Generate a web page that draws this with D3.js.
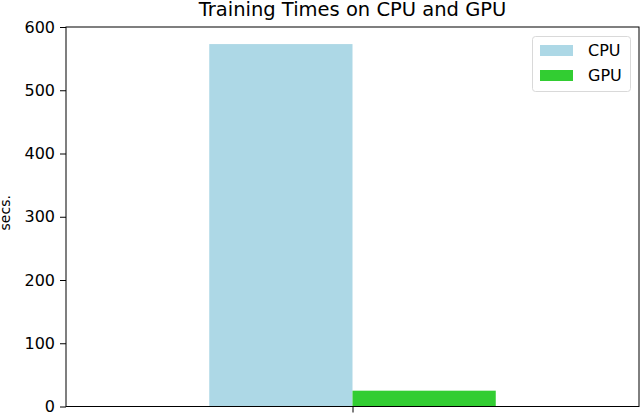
<!DOCTYPE html>
<html>
<head>
<meta charset="utf-8">
<script src="https://cdn.jsdelivr.net/npm/d3@7"></script>
<style>
  html, body { margin: 0; padding: 0; background: #fff; }
  svg { display: block; font-family: "DejaVu Sans", sans-serif; }
</style>
</head>
<body>
<svg id="chart" width="640" height="414"></svg>
<script>
const categories = ["CPU", "GPU"];
const values = [573, 25];
const colors = ["#add8e6", "#32cd32"];
const yTicks = [0, 100, 200, 300, 400, 500, 600];
const barOffsets = [-0.25, 0];
const title = "Training Times on CPU and GPU";
const yLabel = "secs.";

const svg = d3.select("#chart");
const m = { left: 66, right: 639, top: 27, bottom: 406.5 };

const x = d3.scaleLinear().domain([-0.5, 0.5]).range([m.left, m.right]);
const y = d3.scaleLinear().domain([0, 600]).range([m.bottom, m.top]);

// bars
svg.append("g").selectAll("rect")
  .data(categories)
  .join("rect")
  .attr("x", (d, i) => x(barOffsets[i]))
  .attr("width", (d, i) => x(barOffsets[i] + 0.25) - x(barOffsets[i]))
  .attr("y", (d, i) => y(values[i]))
  .attr("height", (d, i) => y(0) - y(values[i]))
  .attr("fill", (d, i) => colors[i]);

// y axis
const yAxis = d3.axisLeft(y).tickValues(yTicks).tickSize(6).tickPadding(5);
const gy = svg.append("g").attr("transform", `translate(${m.left},0)`).call(yAxis);
gy.select(".domain").remove();
gy.selectAll("text").attr("font-size", 16).attr("fill", "#000").attr("font-family", "DejaVu Sans");
gy.selectAll("line").attr("stroke", "#000");

// x axis (single tick at center, no label)
const xAxis = d3.axisBottom(x).tickValues([0]).tickFormat("").tickSize(6);
const gx = svg.append("g").attr("transform", `translate(0,${m.bottom})`).call(xAxis);
gx.select(".domain").remove();
gx.selectAll("line").attr("stroke", "#000");

// frame
svg.append("rect")
  .attr("x", m.left).attr("y", m.top)
  .attr("width", m.right - m.left).attr("height", m.bottom - m.top)
  .attr("fill", "none").attr("stroke", "#000").attr("stroke-width", 1);

// title
svg.append("text")
  .attr("x", (m.left + m.right) / 2).attr("y", 16)
  .attr("text-anchor", "middle")
  .attr("font-size", 19.5)
  .text(title);

// y label
svg.append("text")
  .attr("transform", `translate(10,${(m.top + m.bottom) / 2 - 4}) rotate(-90)`)
  .attr("text-anchor", "middle")
  .attr("font-size", 14)
  .text(yLabel);

// legend
const lg = svg.append("g");
lg.append("rect")
  .attr("x", 532.5).attr("y", 36.5).attr("width", 98).attr("height", 55)
  .attr("rx", 3).attr("fill", "#fff").attr("fill-opacity", 0.8)
  .attr("stroke", "#d9d9d9");
const items = lg.selectAll("g.item").data(categories).join("g")
  .attr("transform", (d, i) => `translate(540,${45 + i * 25})`);
items.append("rect").attr("width", 33).attr("height", 11)
  .attr("fill", (d, i) => colors[i]);
items.append("text").attr("x", 48).attr("y", 11)
  .attr("font-size", 16).text(d => d);
</script>
</body>
</html>
